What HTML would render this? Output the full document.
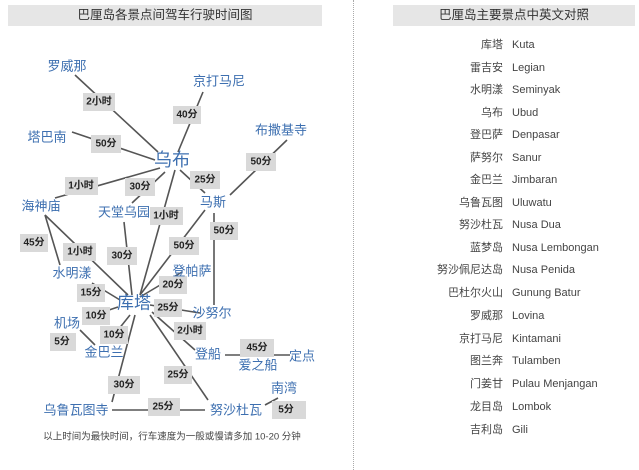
<!DOCTYPE html>
<html><head><meta charset="utf-8"><style>
body{margin:0;width:639px;height:470px;background:#fff;overflow:hidden;position:relative;font-family:"Liberation Sans","Noto Sans CJK SC",sans-serif}
.bar{position:absolute;background:#e6e6e6;height:21px;top:5px;text-align:center;font-size:12.5px;line-height:21px;color:#333}
.r{position:absolute;font-size:11px;color:#444;line-height:14px}
.c{text-align:right;width:80px;left:423px}
.e{left:512px}
</style></head><body>
<div class="bar" style="left:8px;width:314px">巴厘岛各景点间驾车行驶时间图</div>
<div class="bar" style="left:393px;width:242px">巴厘岛主要景点中英文对照</div>
<div style="position:absolute;left:353px;top:0;height:470px;border-left:1px dotted #aaa"></div>
<svg width="639" height="470" style="position:absolute;left:0;top:0" font-family="Liberation Sans,Noto Sans CJK SC,sans-serif">
<g stroke="#555" stroke-width="1.6" fill="none">
<line x1="75" y1="75" x2="158" y2="152"/>
<line x1="203" y1="92" x2="178" y2="152"/>
<line x1="72" y1="132" x2="155" y2="160"/>
<line x1="287" y1="140" x2="230" y2="195"/>
<line x1="160" y1="168" x2="55" y2="198"/>
<line x1="165" y1="172" x2="132" y2="203"/>
<line x1="180" y1="170" x2="205" y2="193"/>
<line x1="175" y1="170" x2="140" y2="295"/>
<line x1="205" y1="210" x2="140" y2="295"/>
<line x1="214" y1="213" x2="214" y2="305"/>
<line x1="45" y1="215" x2="60" y2="265"/>
<line x1="45" y1="215" x2="128" y2="295"/>
<line x1="124" y1="222" x2="132" y2="295"/>
<line x1="92" y1="283" x2="120" y2="300"/>
<line x1="140" y1="297" x2="182" y2="272"/>
<line x1="150" y1="305" x2="200" y2="313"/>
<line x1="118" y1="307" x2="85" y2="318"/>
<line x1="130" y1="315" x2="118" y2="330"/>
<line x1="80" y1="330" x2="95" y2="345"/>
<line x1="152" y1="312" x2="195" y2="350"/>
<line x1="225" y1="355" x2="290" y2="355"/>
<line x1="150" y1="315" x2="208" y2="400"/>
<line x1="135" y1="315" x2="112" y2="402"/>
<line x1="112" y1="410" x2="205" y2="410"/>
<line x1="278" y1="398" x2="265" y2="405"/>
</g>
<g fill="#d9d9d9">
<rect x="83" y="93" width="32" height="18"/><rect x="173" y="106" width="28" height="18"/>
<rect x="91" y="135" width="30" height="18"/><rect x="246" y="153" width="30" height="18"/>
<rect x="65" y="177" width="33" height="18"/><rect x="125" y="178" width="30" height="18"/>
<rect x="190" y="171" width="30" height="18"/><rect x="150" y="207" width="33" height="18"/>
<rect x="210" y="222" width="28" height="18"/><rect x="20" y="234" width="28" height="18"/>
<rect x="63" y="243" width="33" height="18"/><rect x="107" y="247" width="30" height="18"/>
<rect x="169" y="237" width="30" height="18"/><rect x="159" y="276" width="28" height="18"/>
<rect x="77" y="284" width="28" height="18"/><rect x="154" y="299" width="28" height="18"/>
<rect x="82" y="307" width="28" height="18"/><rect x="174" y="322" width="32" height="18"/>
<rect x="100" y="326" width="28" height="18"/><rect x="50" y="333" width="26" height="18"/>
<rect x="240" y="339" width="34" height="18"/><rect x="164" y="366" width="28" height="18"/>
<rect x="108" y="376" width="32" height="18"/><rect x="148" y="398" width="32" height="18"/>
<rect x="272" y="401" width="34" height="18"/>
</g>
<g fill="#222" font-size="10" font-weight="bold" text-anchor="middle" dominant-baseline="central">
<text x="99" y="102">2小时</text><text x="187" y="115">40分</text><text x="106" y="144">50分</text>
<text x="261" y="162">50分</text><text x="81" y="186">1小时</text><text x="140" y="187">30分</text>
<text x="205" y="180">25分</text><text x="166" y="216">1小时</text><text x="224" y="231">50分</text>
<text x="34" y="243">45分</text><text x="80" y="252">1小时</text><text x="122" y="256">30分</text>
<text x="184" y="246">50分</text><text x="173" y="285">20分</text><text x="91" y="293">15分</text>
<text x="168" y="308">25分</text><text x="96" y="316">10分</text><text x="190" y="331">2小时</text>
<text x="114" y="335">10分</text><text x="62" y="342">5分</text><text x="257" y="348">45分</text>
<text x="178" y="375">25分</text><text x="124" y="385">30分</text><text x="163" y="407">25分</text>
<text x="286" y="410">5分</text>
</g>
<g fill="#3d6fb0" font-size="13" text-anchor="middle" dominant-baseline="central">
<text x="67" y="66">罗威那</text><text x="219" y="81">京打马尼</text><text x="47" y="137">塔巴南</text>
<text x="281" y="130">布撒基寺</text><text x="172" y="160" font-size="18">乌布</text>
<text x="41" y="206">海神庙</text><text x="124" y="212">天堂乌园</text><text x="213" y="202">马斯</text>
<text x="72" y="273">水明漾</text><text x="192" y="271">登帕萨</text><text x="134" y="303" font-size="17">库塔</text>
<text x="212" y="313">沙努尔</text><text x="67" y="323">机场</text><text x="104" y="352">金巴兰</text>
<text x="208" y="354">登船</text><text x="258" y="365">爱之船</text><text x="302" y="356">定点</text>
<text x="284" y="388">南湾</text><text x="76" y="410">乌鲁瓦图寺</text><text x="236" y="410">努沙杜瓦</text>
</g>
<text x="172" y="437" font-size="9.5" fill="#444" text-anchor="middle" dominant-baseline="central">以上时间为最快时间，行车速度为一般或慢请多加 10-20 分钟</text>
</svg>
<div class="r c" style="top:38px">库塔</div><div class="r e" style="top:38px">Kuta</div>
<div class="r c" style="top:61px">雷吉安</div><div class="r e" style="top:61px">Legian</div>
<div class="r c" style="top:83px">水明漾</div><div class="r e" style="top:83px">Seminyak</div>
<div class="r c" style="top:106px">乌布</div><div class="r e" style="top:106px">Ubud</div>
<div class="r c" style="top:128px">登巴萨</div><div class="r e" style="top:128px">Denpasar</div>
<div class="r c" style="top:151px">萨努尔</div><div class="r e" style="top:151px">Sanur</div>
<div class="r c" style="top:173px">金巴兰</div><div class="r e" style="top:173px">Jimbaran</div>
<div class="r c" style="top:196px">乌鲁瓦图</div><div class="r e" style="top:196px">Uluwatu</div>
<div class="r c" style="top:218px">努沙杜瓦</div><div class="r e" style="top:218px">Nusa Dua</div>
<div class="r c" style="top:241px">蓝梦岛</div><div class="r e" style="top:241px">Nusa Lembongan</div>
<div class="r c" style="top:263px">努沙佩尼达岛</div><div class="r e" style="top:263px">Nusa Penida</div>
<div class="r c" style="top:286px">巴杜尔火山</div><div class="r e" style="top:286px">Gunung Batur</div>
<div class="r c" style="top:309px">罗威那</div><div class="r e" style="top:309px">Lovina</div>
<div class="r c" style="top:332px">京打马尼</div><div class="r e" style="top:332px">Kintamani</div>
<div class="r c" style="top:354px">图兰奔</div><div class="r e" style="top:354px">Tulamben</div>
<div class="r c" style="top:377px">门姜甘</div><div class="r e" style="top:377px">Pulau Menjangan</div>
<div class="r c" style="top:400px">龙目岛</div><div class="r e" style="top:400px">Lombok</div>
<div class="r c" style="top:423px">吉利岛</div><div class="r e" style="top:423px">Gili</div>
</body></html>
